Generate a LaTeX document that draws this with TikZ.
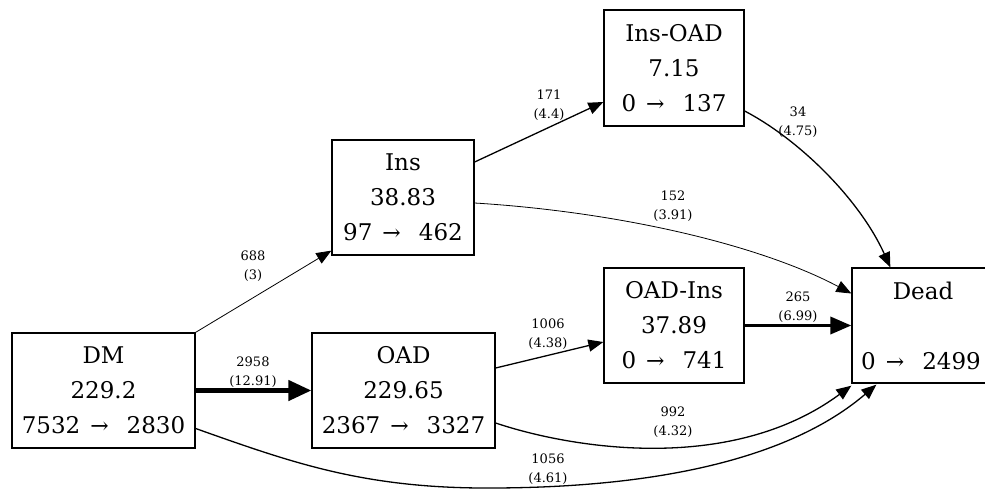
\documentclass[tikz,border=0pt]{standalone}
\usepackage{fontspec}
\setmainfont{DejaVu Serif}
\usetikzlibrary{arrows.meta,calc}
% small arrow between the two counts of a state
\newcommand{\flowarr}{{\fontsize{22}{22}\selectfont →}}
\newcommand{\flowpair}[2]{#1\hspace{10pt}\flowarr\hspace{18pt}#2}
\begin{document}
\begin{tikzpicture}[x=1pt,y=-1pt,
  state/.style={draw, line width=1.3pt, inner sep=0pt, align=center,
    font=\fontsize{23}{35}\selectfont, minimum height=115pt},
  elabel/.style={align=center, inner sep=0pt, font=\fontsize{13}{18.5}\selectfont},
  thinflow/.style={line width=0.8pt, -{Triangle[length=15pt,width=12pt]}},
  flow/.style={line width=1.3pt, -{Triangle[length=15pt,width=12pt]}},
  heavyflow/.style={line width=3.6pt, -{Triangle[length=21pt,width=17pt]}},
  heaviestflow/.style={line width=4.5pt, -{Triangle[length=23pt,width=20pt]}}]
\clip (0,0) rectangle (985,488);
\fill[white] (0,0) rectangle (985,488);

% states
\node[state, minimum width=183pt] (dm)     at (103.5,390.5) {DM\\229.2\\\flowpair{7532}{2830}};
\node[state, minimum width=183pt] (oad)    at (403.5,390.5) {OAD\\229.65\\\flowpair{2367}{3327}};
\node[state, minimum width=142pt] (ins)    at (403,197.5)   {Ins\\38.83\\\flowpair{97}{462}};
\node[state, minimum width=140pt, minimum height=116pt] (insoad) at (674,68) {Ins-OAD\\7.15\\\flowpair{0}{137}};
\node[state, minimum width=140pt] (oadins) at (674,325.5)   {OAD-Ins\\37.89\\\flowpair{0}{741}};
\node[state, minimum width=142pt, text width=142pt] (dead) at (923,325.5) {Dead\\[35pt]\hspace*{-4pt}\flowpair{0}{2499}\hspace*{-30pt}};

% transitions
\draw[thinflow] (dm.north east) -- ($(ins.south west)+(0,-5)$);
\draw[heaviestflow] (dm.east) -- (oad.west);
\draw[flow] ($(dm.east)+(0,38)$) .. controls (290,462) and (360,487) .. (480,488)
  .. controls (680,489) and (800,450) .. ($(dead.south west)+(25,1)$);
\draw[flow] ($(ins.east)+(0,-35.5)$) -- ($(insoad.west)+(0,34)$);
\draw[thinflow] ($(ins.east)+(0,5.5)$) .. controls (620,212) and (760,245) .. ($(dead.west)+(0,-32)$);
\draw[flow] ($(insoad.east)+(0,43)$) .. controls (800,140) and (860,200) .. ($(dead.north west)+(39,0)$);
\draw[flow] ($(oad.east)+(0,-22.5)$) -- ($(oadins.west)+(0,16.5)$);
\draw[heavyflow] (oadins.east) -- (dead.west);
\draw[flow] ($(oad.east)+(0,32.5)$) .. controls (570,448) and (730,475) .. ($(dead.south west)+(0,2)$);

% transition labels
\node[elabel] (l1) at (253,266) {688\\(3)};
\node[elabel] (l2) at (253,372) {2958\\(12.91)};
\node[elabel] (l3) at (549,105) {171\\(4.4)};
\node[elabel] (l4) at (798,122) {34\\(4.75)};
\node[elabel] (l5) at (673,206) {152\\(3.91)};
\node[elabel] (l6) at (548,334) {1006\\(4.38)};
\node[elabel] (l7) at (798,307) {265\\(6.99)};
\node[elabel] (l8) at (673,422) {992\\(4.32)};
\node[elabel] (l9) at (548,469) {1056\\(4.61)};
\end{tikzpicture}
\end{document}
